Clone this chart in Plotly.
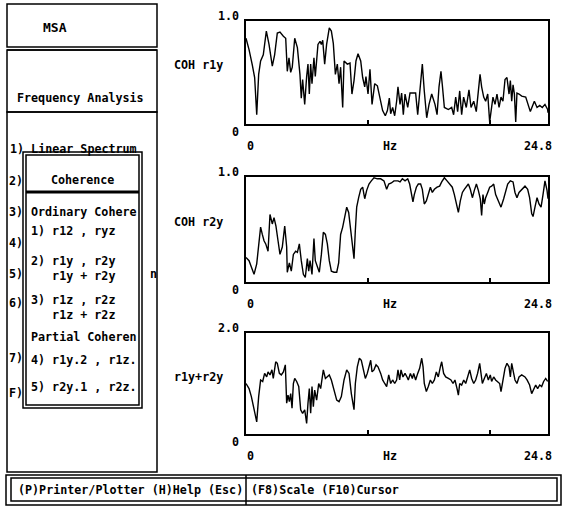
import plotly.graph_objects as go

W, H = 562, 507

# ---------------- data ----------------
f_r1y = [0, 0.25, 0.52, 0.71, 0.88, 1.04, 1.20, 1.42, 1.67, 1.89, 2.16, 2.35, 2.57, 2.79, 3.07,
         3.26, 3.39, 3.53, 3.67, 3.80, 4.00, 4.22, 4.43, 4.54, 4.65, 4.82, 4.98, 5.09, 5.20, 5.31,
         5.42, 5.58, 5.69, 5.80, 5.91, 6.08, 6.19, 6.30, 6.46, 6.62, 6.84, 7.01, 7.17, 7.34, 7.50,
         7.64, 7.77, 7.94, 8.05, 8.32, 8.54, 8.70, 8.87, 9.03, 9.20, 9.42, 9.58, 9.75, 9.85, 10.02,
         10.18, 10.35, 10.57, 10.79, 11.00, 11.22, 11.44, 11.61, 11.77, 11.88, 12.04, 12.21, 12.37, 12.48,
         12.65, 12.78, 12.92, 13.06, 13.28, 13.47, 13.74, 13.93, 14.10, 14.29, 14.48, 14.64, 14.84, 15.03,
         15.25, 15.52, 15.69, 15.85, 16.01, 16.12, 16.29, 16.62, 16.89, 17.05, 17.22, 17.38, 17.55, 17.71,
         17.87, 18.09, 18.31, 18.48, 18.70, 18.91, 19.08, 19.22, 19.35, 19.52, 19.68, 19.85, 20.01, 20.12,
         20.28, 20.45, 20.61, 20.78, 20.94, 21.10, 21.27, 21.43, 21.60, 21.71, 21.82, 21.93, 22.04, 22.15,
         22.25, 22.42, 22.64, 22.97, 23.19, 23.35, 23.51, 23.68, 23.90, 24.12, 24.33, 24.55, 24.77, 24.8]
coh_r1y = [0.83, 0.72, 0.57, 0.45, 0.09, 0.48, 0.61, 0.67, 0.90, 0.77, 0.56, 0.67, 0.88, 0.89, 0.85,
           0.83, 0.51, 0.64, 0.50, 0.55, 0.83, 0.74, 0.48, 0.25, 0.43, 0.19, 0.46, 0.58, 0.29, 0.58,
           0.39, 0.64, 0.46, 0.67, 0.77, 0.80, 0.77, 0.81, 0.58, 0.77, 0.93, 0.90, 0.78, 0.48, 0.58,
           0.39, 0.55, 0.16, 0.61, 0.58, 0.59, 0.29, 0.42, 0.61, 0.68, 0.61, 0.45, 0.36, 0.46, 0.29,
           0.53, 0.19, 0.39, 0.37, 0.26, 0.13, 0.08, 0.13, 0.25, 0.10, 0.16, 0.08, 0.22, 0.36,
           0.19, 0.30, 0.09, 0.29, 0.16, 0.30, 0.30, 0.30, 0.09, 0.38, 0.58, 0.32, 0.06, 0.19,
           0.29, 0.19, 0.09, 0.36, 0.51, 0.38, 0.16, 0.14, 0.16, 0.09, 0.26, 0.12, 0.32, 0.09,
           0.26, 0.16, 0.33, 0.16, 0.22, 0.12, 0.29, 0.48, 0.36, 0.26, 0.22, 0.29, 0.02, 0.14,
           0.26, 0.19, 0.29, 0.16, 0.26, 0.22, 0.43, 0.45, 0.29, 0.42, 0.22, 0.38, 0.29, 0.02,
           0.30, 0.29, 0.27, 0.26, 0.19, 0.12, 0.17, 0.22, 0.16, 0.18, 0.16, 0.19, 0.14, 0.11]

f_r2y = [0, 0.25, 0.44, 0.66, 0.88, 1.07, 1.20, 1.34, 1.48, 1.62, 1.81, 1.97, 2.16, 2.30, 2.46,
         2.63, 2.79, 2.98, 3.18, 3.34, 3.39, 3.56, 3.72, 3.89, 4.08, 4.22, 4.38, 4.54, 4.71, 4.87,
         5.04, 5.15, 5.26, 5.42, 5.58, 5.69, 5.86, 6.02, 6.19, 6.35, 6.52, 6.68, 6.84, 7.01, 7.23,
         7.45, 7.61, 7.77, 7.94, 8.10, 8.27, 8.43, 8.60, 8.76, 8.87, 8.98, 9.09, 9.25, 9.42, 9.58,
         9.75, 9.91, 10.10, 10.29, 10.51, 10.79, 11.06, 11.33, 11.55, 11.72, 11.94, 12.15, 12.48,
         12.65, 12.84, 13.06, 13.28, 13.44, 13.60, 13.71, 13.82, 13.99, 14.15, 14.34, 14.48, 14.64,
         14.81, 14.97, 15.14, 15.30, 15.47, 15.69, 15.90, 16.07, 16.29, 16.51, 16.73, 16.94, 17.11,
         17.27, 17.44, 17.60, 17.77, 17.93, 18.09, 18.26, 18.42, 18.59, 18.75, 18.92, 19.08, 19.24,
         19.35, 19.46, 19.57, 19.68, 19.85, 20.01, 20.17, 20.34, 20.50, 20.72, 20.94, 21.16, 21.32,
         21.49, 21.71, 21.93, 22.09, 22.25, 22.42, 22.64, 22.91, 23.13, 23.29, 23.46, 23.57, 23.73,
         23.90, 24.06, 24.23, 24.39, 24.55, 24.72, 24.8]
coh_r2y = [0.23, 0.20, 0.14, 0.07, 0.17, 0.39, 0.52, 0.45, 0.39, 0.36, 0.29, 0.64, 0.55, 0.61, 0.53,
           0.39, 0.26, 0.33, 0.53, 0.33, 0.09, 0.18, 0.10, 0.26, 0.29, 0.28, 0.36, 0.20, 0.07, 0.04,
           0.22, 0.10, 0.20, 0.07, 0.41, 0.20, 0.14, 0.09, 0.26, 0.47, 0.45, 0.36, 0.20, 0.10, 0.09,
           0.09, 0.18, 0.45, 0.52, 0.61, 0.71, 0.66, 0.49, 0.33, 0.22, 0.49, 0.71, 0.80, 0.88, 0.90,
           0.79, 0.87, 0.93, 0.96, 0.99, 0.98, 0.98, 0.96, 0.88, 0.93, 0.94, 0.96, 0.96,
           0.95, 0.98, 0.96, 0.98, 0.93, 0.80, 0.76, 0.83, 0.90, 0.93, 0.93, 0.88, 0.74,
           0.77, 0.83, 0.90, 0.85, 0.88, 0.90, 0.91, 0.95, 0.99, 0.96, 0.93, 0.90, 0.83,
           0.74, 0.66, 0.77, 0.85, 0.88, 0.90, 0.93, 0.88, 0.80, 0.87, 0.93, 0.87, 0.79,
           0.63, 0.83, 0.74, 0.80, 0.85, 0.90, 0.91, 0.93, 0.83, 0.77, 0.71, 0.79, 0.87,
           0.93, 0.96, 0.95, 0.85, 0.80, 0.85, 0.88, 0.91, 0.88, 0.80, 0.65, 0.62, 0.71,
           0.80, 0.74, 0.71, 0.83, 0.96, 0.87, 0.79]

f_sum = [0, 0.25, 0.44, 0.66, 0.88, 1.04, 1.20, 1.37, 1.53, 1.70, 1.81, 1.97, 2.13, 2.24, 2.44,
         2.57, 2.74, 2.90, 3.07, 3.23, 3.34, 3.45, 3.56, 3.67, 3.78, 3.89, 4.00, 4.16, 4.33, 4.49,
         4.65, 4.82, 4.98, 5.09, 5.20, 5.31, 5.42, 5.53, 5.64, 5.80, 5.97, 6.13, 6.35, 6.52, 6.68,
         6.84, 7.01, 7.23, 7.45, 7.64, 7.83, 8.05, 8.27, 8.46, 8.65, 8.87, 8.98, 9.14, 9.31, 9.47,
         9.64, 9.80, 9.96, 10.13, 10.24, 10.35, 10.51, 10.68, 10.84, 11.06, 11.22, 11.39, 11.55, 11.72,
         11.88, 12.04, 12.21, 12.37, 12.48,
         12.62, 12.73, 12.89, 13.06, 13.22, 13.33, 13.50, 13.66, 13.77, 13.93, 14.10, 14.26, 14.43,
         14.54, 14.64, 14.81, 14.97, 15.14, 15.30, 15.47, 15.63, 15.79, 15.96, 16.07, 16.23, 16.40,
         16.62, 16.83, 17.00, 17.16, 17.33, 17.44, 17.55, 17.71, 17.88, 18.04, 18.20, 18.37, 18.53,
         18.70, 18.86, 19.02, 19.19, 19.30, 19.41, 19.57, 19.74, 19.90, 20.06, 20.17, 20.34, 20.50,
         20.67, 20.83, 20.94, 21.10, 21.27, 21.43, 21.60, 21.71, 21.82, 21.98, 22.09, 22.25, 22.42,
         22.64, 22.91, 23.08, 23.29, 23.46, 23.62, 23.79, 23.95, 24.12, 24.28, 24.44, 24.61, 24.77]
r1y_r2y = [1.00, 0.90, 0.74, 0.48, 0.24, 0.74, 1.07, 1.04, 1.20, 1.13, 1.23, 1.17, 1.27, 1.10, 1.43,
           1.40, 1.20, 1.17, 1.23, 1.37, 0.61, 0.77, 0.64, 0.80, 0.51, 1.00, 1.10, 1.04, 0.94, 0.48,
           0.41, 0.48, 0.21, 0.61, 0.90, 0.41, 0.94, 0.54, 0.87, 0.67, 1.00, 0.90, 1.27, 1.10, 1.13,
           1.17, 1.07, 0.87, 0.67, 0.64, 0.74, 1.07, 1.27, 1.20, 0.80, 0.48, 1.00, 1.33, 1.50, 1.46,
           1.27, 1.10, 1.20, 1.37, 1.46, 1.23, 1.27, 1.37, 1.33, 1.20, 1.07, 1.00, 0.94, 1.17,
           1.00, 1.07, 1.00, 1.07, 1.27,
           1.07, 1.27, 1.13, 1.20, 1.13, 1.07, 1.20, 1.10, 1.20, 1.07, 1.20, 1.30, 1.50,
           1.33, 1.00, 0.84, 0.94, 1.07, 1.00, 1.07, 1.23, 1.13, 1.33, 1.43, 1.20, 1.13,
           1.10, 1.07, 1.00, 1.07, 0.90, 0.77, 1.00, 0.97, 1.07, 1.00, 1.13, 1.27, 1.10,
           1.00, 1.07, 1.20, 1.40, 1.20, 1.00, 1.10, 1.20, 1.07, 1.17, 1.04, 1.13, 1.07,
           1.04, 1.00, 0.84, 1.07, 1.30, 1.40, 1.33, 1.13, 1.40, 1.20, 1.07, 1.00, 1.13,
           1.17, 1.13, 1.07, 0.97, 0.80, 0.87, 0.97, 0.90, 0.97, 0.94, 1.04, 1.10, 1.04]

series_names = ["COH r1y", "COH r2y", "r1y+r2y"]
y_top_labels = ["1.0", "1.0", "2.0"]
y_max = [1.0, 1.0, 2.0]
x_max = 24.8
x_tick_vals = [10, 20]
x_labels = ["0", "Hz", "24.8"]

menu_title = "MSA"
section_title = "Frequency Analysis"
popup_title = "Coherence"
popup_lines = ["Ordinary Cohere", "1) r12 , ryz", "2) r1y , r2y<br>   r1y + r2y",
               "3) r1z , r2z<br>   r1z + r2z", "Partial Coheren", "4) r1y.2 , r1z.",
               "5) r2y.1 , r2z."]
menu_keys = ["2)", "3)", "4)", "5)", "6)", "7)", "F)"]
status_left = "(P)Printer/Plotter (H)Help (Esc)"
status_right = "(F8)Scale (F10)Cursor"

# ---------------- helpers ----------------
def px(x):
    return x / W

def py(y):
    return 1 - y / H

FS = 11.7
FONT = dict(family="DejaVu Sans Mono", size=FS, color="black", weight="bold")

annotations = []
shapes = []

def text(t, x, y, anchor="left", size=FS):
    f = dict(FONT)
    f["size"] = size
    annotations.append(dict(text=t, x=px(x), y=py(y), xref="paper", yref="paper",
                            xanchor=anchor, yanchor="middle", align="left",
                            showarrow=False, font=f))

def rect(x0, y0, x1, y1, w=1.5, fill=None):
    shapes.append(dict(type="rect", xref="paper", yref="paper",
                       x0=px(x0), x1=px(x1), y0=py(y1), y1=py(y0),
                       line=dict(color="black", width=w),
                       fillcolor=fill if fill else "rgba(0,0,0,0)", layer="above"))

def hline(x0, x1, y, w=1.5):
    shapes.append(dict(type="line", xref="paper", yref="paper",
                       x0=px(x0), x1=px(x1), y0=py(y), y1=py(y),
                       line=dict(color="black", width=w), layer="above"))

def vline(x, y0, y1, w=1.5):
    shapes.append(dict(type="line", xref="paper", yref="paper",
                       x0=px(x), x1=px(x), y0=py(y0), y1=py(y1),
                       line=dict(color="black", width=w), layer="above"))

# ---------------- figure ----------------
fig = go.Figure()
xs = [f_r1y, f_r2y, f_sum]
ys = [coh_r1y, coh_r2y, r1y_r2y]
boxes = [(20.7, 124), (176.7, 281.7), (333, 434)]
X0, X1 = 246, 548

for i in range(3):
    ax = "" if i == 0 else str(i + 1)
    fig.add_trace(go.Scatter(x=xs[i], y=ys[i], mode="lines",
                             line=dict(color="black", width=1.4),
                             xaxis="x" + ax, yaxis="y" + ax, showlegend=False,
                             cliponaxis=True))
    top, bot = boxes[i]
    fig.layout["xaxis" + ax] = dict(domain=[px(X0), px(X1)], range=[0, x_max],
                                    showline=True, mirror=True, linecolor="black", linewidth=2,
                                    showgrid=False, zeroline=False, showticklabels=False,
                                    ticks="inside", tickvals=x_tick_vals, ticklen=4,
                                    tickwidth=2, tickcolor="black", anchor="y" + ax)
    fig.layout["yaxis" + ax] = dict(domain=[py(bot), py(top)], range=[0, y_max[i]],
                                    showline=True, mirror=True, linecolor="black", linewidth=2,
                                    showgrid=False, zeroline=False, showticklabels=False,
                                    ticks="", anchor="x" + ax)
    # labels
    text(series_names[i], 172, (top + bot) / 2 - 7)
    text(y_top_labels[i], 241, top - 5, anchor="right")
    text("0", 241, bot + 8, anchor="right")
    text(x_labels[0], 250, bot + 22, anchor="center")
    text(x_labels[1], 390, bot + 22, anchor="center")
    text(x_labels[2], 554, bot + 22, anchor="right")

# left panel
rect(7, 4, 157, 47)
hline(7, 157, 50)
rect(7, 50, 157, 112)
rect(7, 112, 157, 472)
text(menu_title, 55, 27, anchor="center", size=13)
text(section_title, 80, 98, anchor="center")

# menu items behind popup
text("1) Linear Spectrum", 8, 149)
key_y = [181, 212, 243, 274, 303, 358, 393]
for k, yy in zip(menu_keys, key_y):
    text(k, 7, yy)
text("n", 148, 274)

# popup
rect(23, 152, 142, 408, w=1.5, fill="white")
rect(26, 155, 139, 405, w=1.5)
hline(26, 139, 192, w=3)
text(popup_title, 82, 180, anchor="center")
popup_y = [212, 231, 268, 307, 337, 360, 387]
for t, yy in zip(popup_lines, popup_y):
    text(t, 29, yy)

# status bar
rect(6, 475, 561, 505)
rect(11, 478, 557, 501)
vline(246, 475, 505)
text(status_left, 16, 490)
text(status_right, 249, 490)

fig.update_layout(width=W, height=H, margin=dict(l=0, r=0, t=0, b=0),
                  paper_bgcolor="white", plot_bgcolor="white",
                  shapes=shapes, annotations=annotations)
fig.write_html("out.html")
